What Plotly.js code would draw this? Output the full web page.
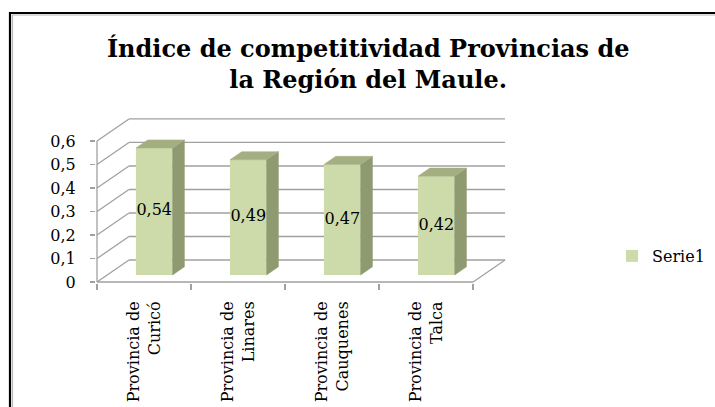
<!DOCTYPE html>
<html>
<head>
<meta charset="utf-8">
<script src="https://cdn.plot.ly/plotly-3.0.1.min.js"></script>
<style>html,body{margin:0;padding:0;background:#fff;}#chart{width:715px;height:407px;}</style>
</head>
<body>
<div id="chart"></div>
<script>
// ---- data ----
const categories = ["Provincia de<br>Curicó", "Provincia de<br>Linares", "Provincia de<br>Cauquenes", "Provincia de<br>Talca"];
const values = [0.54, 0.49, 0.47, 0.42];
const seriesName = "Serie1";
const yTickVals = [0, 0.1, 0.2, 0.3, 0.4, 0.5, 0.6];
const yTickText = ["0", "0,1", "0,2", "0,3", "0,4", "0,5", "0,6"];
const chartTitle = "Índice de competitividad Provincias de<br>la Región del Maule.";

// ---- 3D projection parameters (axis units) ----
const DX = 0.34, DY = 0.0936;      // full depth of the box
const F0 = 0.32, FD = 0.37;        // bar front depth fraction, bar depth fraction
const BW = 0.39;                   // bar width (category units)
const FRONT = "#cddbab", SIDE = "#8f9a70", TOP = "#a4af81", GRID = "#a0a0a0";

const idx = values.map((v, i) => i);
const bx = idx.map(i => i + F0 * DX);
const base = F0 * DY;
const dbx = FD * DX, dby = FD * DY;

// side & top faces as polygons derived from values
let sx = [], sy = [], tx = [], ty = [];
values.forEach((v, i) => {
  const xl = bx[i] - BW / 2, xr = bx[i] + BW / 2;
  sx.push(xr, xr + dbx, xr + dbx, xr, xr, null);
  sy.push(base, base + dby, base + v + dby, base + v, base, null);
  tx.push(xl, xr, xr + dbx, xl + dbx, xl, null);
  ty.push(base + v, base + v, base + v + dby, base + v + dby, base + v, null);
});

const nCat = categories.length;
const xLo = -0.5, xHi = nCat - 0.5;

const traces = [
  {type: "bar", x: bx, y: values, base: base, width: BW, name: seriesName,
   marker: {color: FRONT, line: {width: 0}}, hoverinfo: "skip", showlegend: true},
  {type: "scatter", x: sx, y: sy, mode: "lines", fill: "toself", fillcolor: SIDE,
   line: {color: SIDE, width: 0.5}, hoverinfo: "skip", showlegend: false},
  {type: "scatter", x: tx, y: ty, mode: "lines", fill: "toself", fillcolor: TOP,
   line: {color: TOP, width: 0.5}, hoverinfo: "skip", showlegend: false},
  {type: "scatter", x: bx, y: values.map(v => base + v / 2), mode: "text",
   text: values.map(v => v.toFixed(2).replace(".", ",")),
   textfont: {family: "DejaVu Serif", size: 16, color: "#000"},
   hoverinfo: "skip", showlegend: false},
  {type: "scatter", x: [], y: [], xaxis: "x2", yaxis: "y", showlegend: false, hoverinfo: "skip"}
];

// gridlines on back wall + side-wall diagonals + floor
const shapes = [];
yTickVals.forEach(t => {
  shapes.push({type: "line", xref: "x", yref: "y", x0: xLo + DX, x1: xHi + DX, y0: t + DY, y1: t + DY,
    line: {color: GRID, width: 1.3}, layer: "below"});
  shapes.push({type: "line", xref: "x", yref: "y", x0: xLo, x1: xLo + DX, y0: t, y1: t + DY,
    line: {color: GRID, width: 1.3}, layer: "below"});
});
shapes.push({type: "line", xref: "x", yref: "y", x0: xLo, x1: xLo, y0: 0, y1: yTickVals[yTickVals.length - 1],
  line: {color: GRID, width: 1.3}, layer: "below"});
shapes.push({type: "line", xref: "x", yref: "y", x0: xLo, x1: xHi, y0: 0, y1: 0,
  line: {color: GRID, width: 1.3}, layer: "below"});
shapes.push({type: "line", xref: "x", yref: "y", x0: xHi, x1: xHi + DX, y0: 0, y1: DY,
  line: {color: GRID, width: 1.3}, layer: "below"});
// outer frame
shapes.push({type: "rect", xref: "paper", yref: "paper", x0: 10 / 715, x1: 1.2, y0: -0.2, y1: 1 - 13 / 407,
  line: {color: "#000", width: 2.2}, fillcolor: "rgba(0,0,0,0)"});
shapes.push({type: "rect", xref: "paper", yref: "paper", x0: 12.5 / 715, x1: 1.2, y0: -0.2, y1: 1 - 15 / 407,
  line: {color: "#b8b8b8", width: 1.2}, fillcolor: "rgba(0,0,0,0)"});

const xRange = [-0.512, 3.86];
const yRange = [-0.005, 0.705];

const layout = {
  width: 715, height: 407,
  margin: {l: 0, r: 0, t: 0, b: 0, autoexpand: false},
  paper_bgcolor: "#fff", plot_bgcolor: "rgba(0,0,0,0)",
  separators: ", ",
  title: {text: chartTitle, x: 0.515, xanchor: "center", y: 1 - 57 / 407, yanchor: "middle",
    font: {family: "DejaVu Serif", size: 24, color: "#000", weight: "bold"}},
  xaxis: {domain: [0.1341, 0.7090], range: xRange, tickvals: idx, ticktext: categories,
    tickangle: -90, ticks: "", showgrid: false, zeroline: false, showline: false, automargin: false,
    tickfont: {family: "DejaVu Serif", size: 16, color: "#000"}, ticklabelstandoff: 14, anchor: "y"},
  xaxis2: {overlaying: "x", range: xRange, tickvals: [-0.5, 0.5, 1.5, 2.5, 3.5], ticks: "outside",
    ticklen: 6, tickcolor: GRID, tickwidth: 1.3, showticklabels: false, showgrid: false,
    zeroline: false, showline: false, anchor: "y", side: "bottom"},
  yaxis: {domain: [0.3042, 0.7143], range: yRange, tickvals: yTickVals, ticktext: yTickText,
    ticks: "outside", ticklen: 5, tickcolor: GRID, tickwidth: 1.3, showgrid: false, zeroline: false,
    showline: false, automargin: false, tickfont: {family: "DejaVu Serif", size: 16, color: "#000"}, ticklabelstandoff: 11},
  legend: {x: 612 / 715, xanchor: "left", y: 1 - 256 / 407, yanchor: "middle",
    font: {family: "DejaVu Serif", size: 16, color: "#000"}, bgcolor: "rgba(0,0,0,0)",
    itemwidth: 30},
  shapes: shapes,
  showlegend: true
};

Plotly.newPlot("chart", traces, layout, {displayModeBar: false, staticPlot: true});
</script>
</body>
</html>
